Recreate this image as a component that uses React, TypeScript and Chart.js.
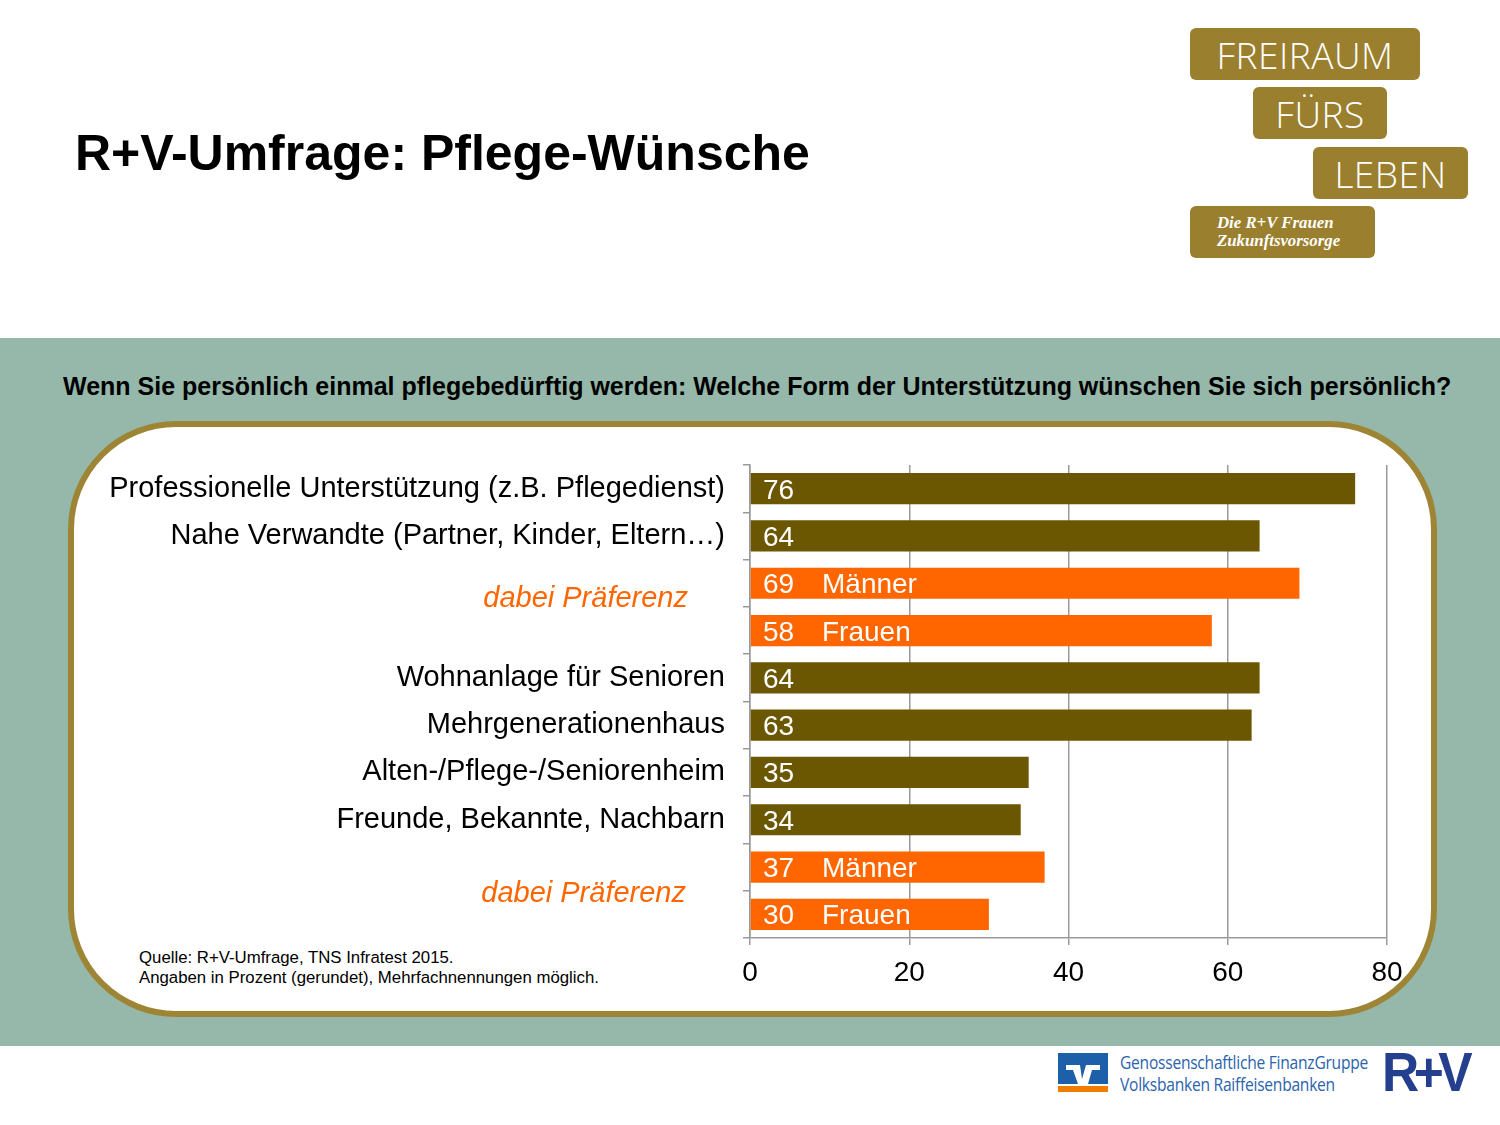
import React, { useEffect, useRef } from "react";
import { Chart, registerables } from "chart.js";

Chart.register(...registerables);

const categories = [
  "Professionelle Unterstützung (z.B. Pflegedienst)",
  "Nahe Verwandte (Partner, Kinder, Eltern…)",
  "",
  "",
  "Wohnanlage für Senioren",
  "Mehrgenerationenhaus",
  "Alten-/Pflege-/Seniorenheim",
  "Freunde, Bekannte, Nachbarn",
  "",
  "",
];
const values = [76, 64, 69, 58, 64, 63, 35, 34, 37, 30];
const subgroupLabels = ["", "", "Männer", "Frauen", "", "", "", "", "Männer", "Frauen"];
const subgroupNote = "dabei Präferenz";
const subgroupPairs = [
  [2, 3],
  [8, 9],
];
const xMin = 0;
const xMax = 80;
const xStep = 20;

const OLIVE = "#6b5602";
const ORANGE = "#ff6600";
const GRID = "#9a9a9a";
const FONT = "'Liberation Sans', Arial, sans-serif";

const barTextPlugin = {
  id: "barText",
  afterDatasetsDraw(chart: any) {
    const ctx = chart.ctx;
    const meta = chart.getDatasetMeta(0);
    const xs = chart.scales.x;
    const ys = chart.scales.y;
    ctx.save();
    ctx.fillStyle = "#ffffff";
    ctx.font = `28px ${FONT}`;
    ctx.textAlign = "left";
    ctx.textBaseline = "alphabetic";
    meta.data.forEach((bar: any, i: number) => {
      const base = xs.getPixelForValue(0);
      const y = bar.y + 10;
      ctx.fillText(String(values[i]), base + 13, y);
      if (subgroupLabels[i]) ctx.fillText(subgroupLabels[i], base + 72, y);
    });
    ctx.fillStyle = ORANGE;
    ctx.font = `italic 29px ${FONT}`;
    ctx.textAlign = "right";
    const offs = [
      [-62, 0],
      [-64, 11],
    ];
    subgroupPairs.forEach((p, k) => {
      const yMid = (ys.getPixelForValue(p[0]) + ys.getPixelForValue(p[1])) / 2;
      ctx.fillText(subgroupNote, xs.getPixelForValue(0) + offs[k][0], yMid + offs[k][1]);
    });
    ctx.restore();
  },
};

function ChartView() {
  const ref = useRef<HTMLCanvasElement>(null);
  useEffect(() => {
    if (!ref.current) return;
    const chart = new Chart(ref.current, {
      type: "bar",
      data: {
        labels: categories,
        datasets: [
          {
            data: values,
            backgroundColor: subgroupLabels.map((s) => (s ? ORANGE : OLIVE)),
            barPercentage: 0.66,
            categoryPercentage: 1,
            borderWidth: 0,
          },
        ],
      },
      options: {
        indexAxis: "y",
        animation: false,
        responsive: false,
        maintainAspectRatio: false,
        devicePixelRatio: 1,
        layout: { padding: { top: 15, right: 113, left: 0, bottom: 0 } },
        plugins: { legend: { display: false }, tooltip: { enabled: false } },
        scales: {
          x: {
            min: xMin,
            max: xMax,
            ticks: {
              stepSize: xStep,
              color: "#000",
              font: { family: FONT, size: 28 },
              padding: 11,
            },
            grid: { color: GRID, lineWidth: 1.5, tickLength: 7, drawTicks: true },
            border: { color: GRID, width: 1.5 },
            afterFit: (s: any) => {
              s.height = 72;
              s.paddingLeft = 0;
              s.paddingRight = 0;
            },
          },
          y: {
            ticks: {
              color: "#000",
              font: { family: FONT, size: 29 },
              padding: 18,
              autoSkip: false,
            },
            grid: { drawOnChartArea: false, color: GRID, lineWidth: 1.5, tickLength: 7, offset: true },
            border: { color: GRID, width: 1.5 },
            afterFit: (s: any) => {
              s.width = 750;
              s.paddingTop = 0;
              s.paddingBottom = 0;
            },
          },
        },
      },
      plugins: [barTextPlugin],
    });
    return () => chart.destroy();
  }, []);
  return (
    <canvas
      ref={ref}
      width={1500}
      height={560}
      style={{ position: "absolute", left: 0, top: 450, width: 1500, height: 560 }}
    />
  );
}

const GOLD = "#9a7f2e";

function LogoBox(props: { x: number; y: number; w: number; h: number; children: any; style?: any }) {
  return (
    <div
      style={{
        position: "absolute",
        left: props.x,
        top: props.y,
        width: props.w,
        height: props.h,
        background: GOLD,
        borderRadius: 6,
        color: "#fff",
        display: "flex",
        alignItems: "center",
        justifyContent: "center",
        ...props.style,
      }}
    >
      {props.children}
    </div>
  );
}

export default function App() {
  const logoFont = { fontFamily: "'Open Sans', sans-serif", fontWeight: 300, fontSize: 37, letterSpacing: 0.5 };
  return (
    <div
      style={{
        position: "absolute",
        left: 0,
        top: 0,
        width: 1500,
        height: 1125,
        background: "#fff",
        overflow: "hidden",
        fontFamily: FONT,
      }}
    >
      <div
        style={{
          position: "absolute",
          left: 75,
          top: 128,
          fontSize: 50,
          lineHeight: "50px",
          fontWeight: "bold",
          color: "#000",
          whiteSpace: "nowrap",
        }}
      >
        R+V-Umfrage: Pflege-Wünsche
      </div>

      <LogoBox x={1190} y={28} w={230} h={52} style={logoFont}>
        FREIRAUM
      </LogoBox>
      <LogoBox x={1253} y={87} w={134} h={52} style={logoFont}>
        FÜRS
      </LogoBox>
      <LogoBox x={1313} y={147} w={155} h={52} style={logoFont}>
        LEBEN
      </LogoBox>
      <LogoBox
        x={1190}
        y={206}
        w={185}
        h={52}
        style={{
          justifyContent: "flex-start",
          paddingLeft: 27,
          boxSizing: "border-box",
          fontFamily: "'Liberation Serif', 'DejaVu Serif', serif",
          fontStyle: "italic",
          fontWeight: "bold",
          fontSize: 16.8,
          lineHeight: "18px",
        }}
      >
        <div>
          Die R+V Frauen
          <br />
          Zukunftsvorsorge
        </div>
      </LogoBox>

      <div style={{ position: "absolute", left: 0, top: 338, width: 1500, height: 708, background: "#95b8aa" }} />
      <div
        style={{
          position: "absolute",
          left: 0,
          top: 371,
          width: 1500,
          paddingLeft: 63,
          boxSizing: "border-box",
          fontSize: 25,
          fontWeight: "bold",
          color: "#000",
          whiteSpace: "nowrap",
          lineHeight: "30px",
        }}
      >
        Wenn Sie persönlich einmal pflegebedürftig werden: Welche Form der Unterstützung wünschen Sie sich persönlich?
      </div>
      <div
        style={{
          position: "absolute",
          left: 68,
          top: 421,
          width: 1369,
          height: 596,
          boxSizing: "border-box",
          border: "6px solid #9e8535",
          borderRadius: 108,
          background: "#fff",
        }}
      />
      <div
        style={{
          position: "absolute",
          left: 139,
          top: 948,
          fontSize: 16.8,
          lineHeight: "20px",
          color: "#000",
          whiteSpace: "nowrap",
        }}
      >
        Quelle: R+V-Umfrage, TNS Infratest 2015.
        <br />
        Angaben in Prozent (gerundet), Mehrfachnennungen möglich.
      </div>

      <ChartView />

      <svg style={{ position: "absolute", left: 1058, top: 1053 }} width={50} height={39} viewBox="0 0 50 39">
        <rect x={0} y={0} width={50} height={31} fill="#1d5fa8" />
        <rect x={0} y={33} width={50} height={6} fill="#f07d00" />
        <polygon points="8,12 22,12 24,26 28,12 42,12 42,17 34,17 30,31 20,31 15,17 8,17" fill="#fff" />
      </svg>
      <div
        style={{
          position: "absolute",
          left: 1120,
          top: 1051,
          color: "#2b63ad",
          fontFamily: "'Open Sans', sans-serif",
          fontSize: 19,
          lineHeight: "22px",
          whiteSpace: "nowrap",
          transform: "scaleX(0.82)",
          transformOrigin: "left top",
          letterSpacing: -0.3,
        }}
      >
        Genossenschaftliche FinanzGruppe
        <br />
        Volksbanken Raiffeisenbanken
      </div>
      <div
        style={{
          position: "absolute",
          left: 1382,
          top: 1044,
          color: "#243f8d",
          fontFamily: "'Liberation Sans', Arial, sans-serif",
          fontWeight: "bold",
          fontSize: 56,
          lineHeight: "56px",
          letterSpacing: -6,
          whiteSpace: "nowrap",
          transform: "scaleX(0.92)",
          transformOrigin: "left top",
        }}
      >
        R+V
      </div>
    </div>
  );
}
